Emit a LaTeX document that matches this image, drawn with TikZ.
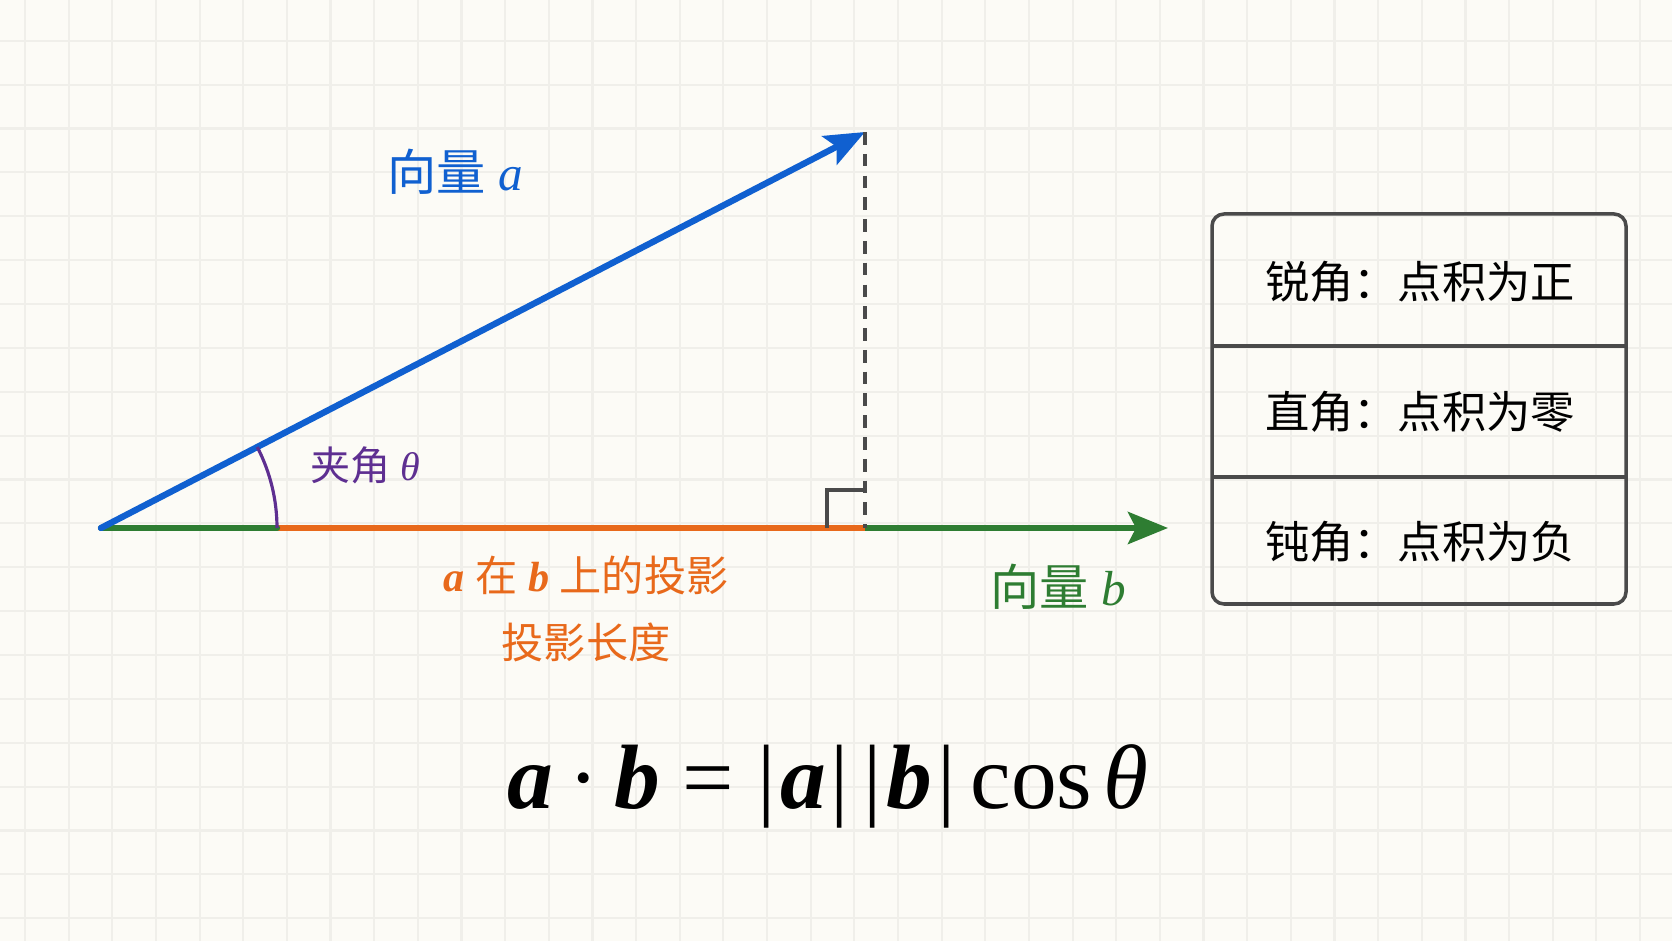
\documentclass[tikz,border=0pt]{standalone}
\usepackage{fontspec}
\setmainfont{Liberation Serif}
\newfontfamily\cjk{Noto Sans CJK SC}
\usetikzlibrary{arrows.meta}
\definecolor{paper}{HTML}{FCFBF6}
\definecolor{gridgray}{HTML}{F0EFEA}
\definecolor{vecblue}{HTML}{1060D0}
\definecolor{vecgreen}{HTML}{2E7D32}
\definecolor{projorange}{HTML}{E8691B}
\definecolor{anglepurple}{HTML}{5E2F91}
\definecolor{edgegray}{HTML}{4A4A4A}
\newcommand{\bvec}[1]{\textbf{\textit{#1}}}

\begin{document}
\begin{tikzpicture}
\tikzstyle{every node}+=[inner sep=0pt]
\tikzstyle{vector}=[line width=1.8pt, -{Stealth[length=0.4cm,width=0.32cm,inset=0.08cm]}]
\tikzstyle{veclabel}=[font=\fontsize{14}{16}\selectfont]
\tikzstyle{projlabel}=[font=\fontsize{12}{14}\selectfont, text=projorange]
\tikzstyle{rowlabel}=[font=\fontsize{12.6}{14}\selectfont]

% paper and grid
\fill[paper] (0,0) rectangle (16.72,9.41);
\useasboundingbox (0,0) rectangle (16.72,9.41);
\draw[gridgray, line width=0.6pt, xstep=0.4365, ystep=0.4388, shift={(0.25,0.227)}]
  (-0.25,-0.227) grid (16.47,9.183);

\coordinate (O) at (1.01,4.13);
\coordinate (tipA) at (8.65,8.09);
\coordinate (footA) at (8.65,4.13);
\coordinate (tipB) at (11.68,4.13);
\coordinate (arcend) at (2.77,4.13);
\coordinate (markL) at (8.27,4.13);
\coordinate (markT) at (8.65,4.51);

% vectors
\draw[vector, vecgreen] (O) -- (tipB);
\draw[projorange, line width=1.8pt] (arcend) -- (footA);
\draw[vecgreen, line width=1.8pt, line cap=round] (O) -- (arcend);
\draw[vector, vecblue, line cap=round] (O) -- (tipA);
\draw[edgegray, line width=1pt, dash pattern=on 3.6pt off 2.6pt] (tipA) -- (footA);
\draw[edgegray, line width=1pt] (markL) |- (markT);
\draw[anglepurple, line width=0.9pt] (arcend) arc[start angle=0, end angle=27.4, radius=1.76];

\node[veclabel, text=vecblue] (labelA) at (4.55,7.69) {{\cjk 向量} \textit{a}};
\node[veclabel, text=vecgreen] (labelB) at (10.58,3.54) {{\cjk 向量} \textit{b}};
\node[font=\fontsize{11.4}{13}\selectfont, text=anglepurple] (labelTheta) at (3.65,4.76) {{\cjk 夹角} \textit{θ}};
\node[projlabel] (labelProj) at (5.86,3.66) {\bvec{a} {\cjk 在} \bvec{b} {\cjk 上的投影}};
\node[projlabel] (labelLen) at (5.86,2.99) {\cjk 投影长度};

% formula
\node[font=\fontsize{26}{30}\selectfont, anchor=base] (formula) at (8.28,1.33)
  {\bvec{a}\,·\,\bvec{b} = |\kern0.05em\bvec{a}\kern0.05em|\,|\kern0.05em\bvec{b}\kern0.05em|\,cos\kern0.12em\textit{θ}};

% cases box
\coordinate (boxSW) at (12.12,3.37);
\coordinate (boxNE) at (16.26,7.27);
\coordinate (cutL1) at (12.12,5.95);
\coordinate (cutR1) at (16.26,5.95);
\coordinate (cutL2) at (12.12,4.64);
\coordinate (cutR2) at (16.26,4.64);
\draw[edgegray, line width=1pt, rounded corners=0.12cm] (boxSW) rectangle (boxNE);
\draw[edgegray, line width=1pt] (cutL1) -- (cutR1);
\draw[edgegray, line width=1pt] (cutL2) -- (cutR2);
\node[rowlabel] (acute) at (14.20,6.59) {\cjk 锐角：点积为正};
\node[rowlabel] (right) at (14.20,5.29) {\cjk 直角：点积为零};
\node[rowlabel] (obtuse) at (14.20,3.99) {\cjk 钝角：点积为负};

\end{tikzpicture}
\end{document}
